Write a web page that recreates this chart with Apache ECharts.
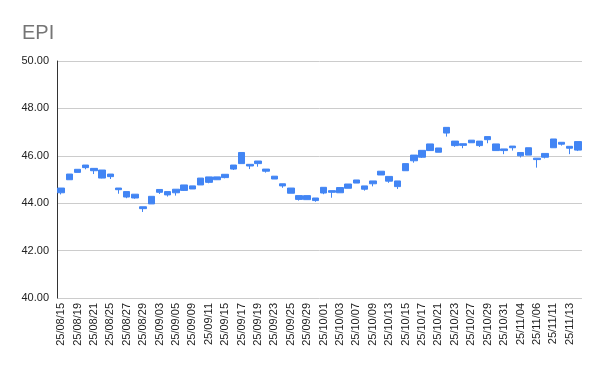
<!DOCTYPE html>
<html>
<head>
<meta charset="utf-8">
<script src="https://cdn.jsdelivr.net/npm/echarts@6/dist/echarts.min.js"></script>
<style>html,body{margin:0;padding:0;background:#fff}#c{width:600px;height:371px}</style>
</head>
<body>
<div id="c"></div>
<script>
var dates = ["25/08/15","25/08/18","25/08/19","25/08/20","25/08/21","25/08/22","25/08/25","25/08/26","25/08/27","25/08/28","25/08/29","25/09/02","25/09/03","25/09/04","25/09/05","25/09/08","25/09/09","25/09/10","25/09/11","25/09/12","25/09/15","25/09/16","25/09/17","25/09/18","25/09/19","25/09/22","25/09/23","25/09/24","25/09/25","25/09/26","25/09/29","25/09/30","25/10/01","25/10/02","25/10/03","25/10/06","25/10/07","25/10/08","25/10/09","25/10/10","25/10/13","25/10/14","25/10/15","25/10/16","25/10/17","25/10/20","25/10/21","25/10/22","25/10/23","25/10/24","25/10/27","25/10/28","25/10/29","25/10/30","25/10/31","25/11/03","25/11/04","25/11/05","25/11/06","25/11/10","25/11/11","25/11/12","25/11/13","25/11/14"];
var openV = [44.64,45.23,45.43,45.61,45.47,45.40,45.23,44.64,44.49,44.38,43.85,44.29,44.58,44.49,44.59,44.77,44.73,45.06,45.11,45.11,45.22,45.61,46.14,45.64,45.78,45.44,45.14,44.82,44.64,44.32,44.32,44.22,44.67,44.53,44.66,44.81,44.98,44.73,44.94,45.35,45.13,44.94,45.67,46.03,46.23,46.50,46.33,47.20,46.62,46.51,46.66,46.62,46.81,46.50,46.29,46.41,46.14,46.34,45.90,46.10,46.71,46.57,46.40,46.60];
var closeV = [44.44,44.99,45.30,45.50,45.37,45.06,45.12,44.57,44.26,44.22,43.77,43.97,44.46,44.35,44.44,44.54,44.60,44.77,44.88,44.99,45.08,45.44,45.67,45.57,45.67,45.35,45.02,44.73,44.42,44.16,44.15,44.11,44.43,44.46,44.44,44.63,44.85,44.59,44.82,45.19,44.93,44.70,45.37,45.79,45.94,46.22,46.15,46.96,46.43,46.44,46.55,46.43,46.68,46.22,46.22,46.34,46.00,46.03,45.84,45.94,46.34,46.49,46.32,46.24];
var lowV = [44.37,44.99,45.30,45.43,45.23,45.05,45.02,44.40,44.21,44.19,43.63,43.97,44.39,44.28,44.32,44.52,44.60,44.77,44.84,44.99,45.05,45.40,45.67,45.44,45.54,45.29,45.02,44.65,44.42,44.11,44.15,44.06,44.38,44.23,44.44,44.63,44.85,44.53,44.71,45.19,44.86,44.60,45.37,45.71,45.91,46.22,46.15,46.81,46.38,46.32,46.55,46.37,46.53,46.22,46.07,46.22,45.93,46.03,45.50,45.89,46.34,46.43,46.07,46.20];
var highV = [44.64,45.23,45.43,45.61,45.47,45.40,45.23,44.64,44.49,44.38,43.85,44.29,44.58,44.49,44.59,44.77,44.73,45.06,45.11,45.11,45.22,45.61,46.14,45.64,45.78,45.44,45.14,44.82,44.64,44.32,44.32,44.22,44.67,44.53,44.66,44.81,44.98,44.73,44.94,45.35,45.13,44.94,45.67,46.03,46.23,46.50,46.33,47.20,46.62,46.51,46.66,46.62,46.81,46.50,46.29,46.41,46.14,46.34,45.90,46.10,46.71,46.57,46.40,46.60];
var yTicks = [40, 42, 44, 46, 48, 50];

var ohlc = dates.map(function (d, i) { return [openV[i], closeV[i], lowV[i], highV[i]]; });
var blue = '#4285F4';
var chart = echarts.init(document.getElementById('c'));
chart.setOption({
  animation: false,
  backgroundColor: '#fff',
  textStyle: { fontFamily: 'Liberation Sans, Arial, sans-serif' },
  title: {
    text: 'EPI', left: 17, top: 18,
    textStyle: { fontSize: 20, fontWeight: 'normal', color: '#757575', fontFamily: 'Liberation Sans, Arial, sans-serif' }
  },
  grid: { left: 57, right: 18, top: 61, bottom: 73 },
  xAxis: {
    type: 'category', data: dates, boundaryGap: true,
    axisLine: { show: false },
    axisTick: { show: false },
    axisLabel: { interval: 1, rotate: 90, fontSize: 11, color: '#222', margin: 5 },
    splitLine: { show: false }
  },
  yAxis: {
    type: 'value', min: yTicks[0], max: yTicks[yTicks.length - 1], interval: 2,
    axisLine: { show: true, lineStyle: { color: '#333', width: 1 } },
    axisTick: { show: false },
    axisLabel: { fontSize: 11, color: '#222', margin: 8, formatter: function (v) { return v.toFixed(2); } },
    splitLine: { show: true, lineStyle: { color: '#cccccc', width: 1 } }
  },
  series: [{
    type: 'candlestick',
    data: ohlc,
    barWidth: 7,
    itemStyle: { color: blue, color0: blue, borderColor: blue, borderColor0: blue, borderWidth: 1 }
  }]
});
</script>
</body>
</html>
